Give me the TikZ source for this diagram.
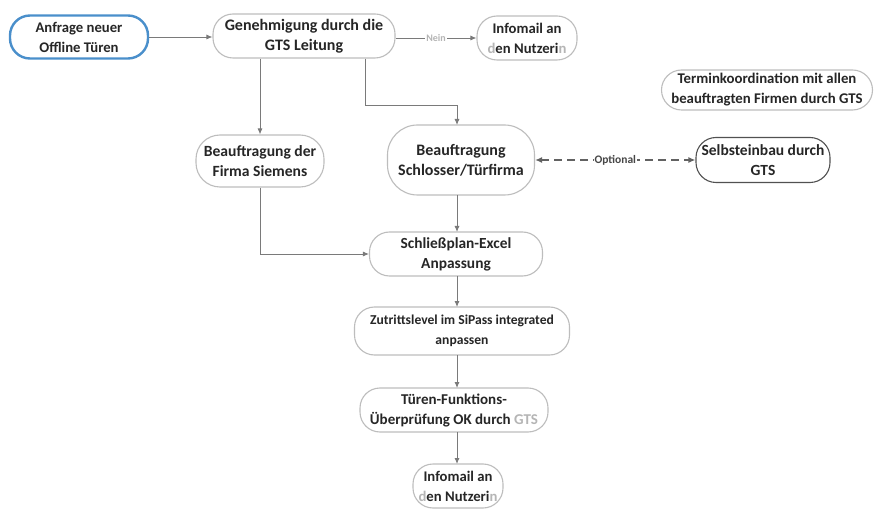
\documentclass[tikz,border=0pt]{standalone}
\usepackage{fontspec}
\setmainfont{Carlito}
\usetikzlibrary{arrows.meta}
\definecolor{boxline}{HTML}{BDBDBD}
\definecolor{startline}{HTML}{4A8FCB}
\definecolor{linkline}{HTML}{7A7A7A}
\definecolor{txt}{HTML}{262626}
\definecolor{faint}{HTML}{B5B5B5}
\tikzset{
  fs/.style={font=\fontsize{#1}{20}\selectfont\bfseries},
  stepbox/.style={draw=boxline, line width=1.1pt, rounded corners=20pt, fill=white,
    align=center, text=txt, inner sep=2pt, fs=15.3},
  startbox/.style={stepbox, draw=startline, line width=2.4pt},
  link/.style={draw=linkline, line width=0.9pt, -{Latex[length=6pt,width=5pt]}},
  optlink/.style={draw=linkline!80!black, line width=1.6pt, dash pattern=on 8pt off 5pt,
    {Latex[length=7pt,width=6pt]}-{Latex[length=7pt,width=6pt]}},
  lbl/.style={fill=white, inner sep=1pt, font=\fontsize{10}{11}\selectfont\bfseries}
}
\begin{document}
\begin{tikzpicture}[x=1pt,y=-1pt]
\useasboundingbox[fill=white] (0,0) rectangle (877,510);

% process steps
\node[startbox, fs=14.7, minimum width=138pt, minimum height=43pt] (anfrage) at (79,37) {Anfrage neuer\\Offline Türen};
\node[stepbox, fs=16, minimum width=182pt, minimum height=44pt] (gen) at (304,36) {Genehmigung durch die\\GTS Leitung};
\node[stepbox, fs=14.7, minimum width=100pt, minimum height=44pt] (info1) at (527,38) {Infomail an\\{\color{faint}d}en Nutzeri{\color{faint}n}};
\node[stepbox, fs=14.8, minimum width=211pt, minimum height=40pt] (termin) at (767,90) {Terminkoordination mit allen\\beauftragten Firmen durch GTS};
\node[stepbox, fs=15.6, minimum width=128pt, minimum height=52pt, rounded corners=24pt] (siemens) at (260,161) {Beauftragung der\\Firma Siemens};
\node[stepbox, fs=16, minimum width=147pt, minimum height=70pt, rounded corners=30pt] (schl) at (461,160) {Beauftragung\\Schlosser/Türfirma};
\node[stepbox, fs=15.5, draw=txt!80, minimum width=134pt, minimum height=45pt] (selbst) at (763,160) {Selbsteinbau durch\\GTS};
\node[stepbox, fs=15.4, minimum width=173pt, minimum height=44pt] (plan) at (456,254) {Schließplan-Excel\\Anpassung};
\node[stepbox, fs=13.6, minimum width=215pt, minimum height=48pt] (zutritt) at (462,331) {Zutrittslevel im SiPass integrated\\anpassen};
\node[stepbox, fs=15, minimum width=188pt, minimum height=44pt] (tueren) at (454,410) {Türen-Funktions-\\Überprüfung OK durch {\color{faint}GTS}};
\node[stepbox, fs=14.7, minimum width=90pt, minimum height=44pt] (info2) at (458,486) {Infomail an\\{\color{faint}d}en Nutzeri{\color{faint}n}};

% connectors
\draw[link] (anfrage.east) -- (anfrage.east -| gen.west);
\draw[link] (gen.east |- info1.west) -- node[lbl, text=faint] {Nein} (info1.west);
\draw[link] (siemens.north |- gen.south) -- (siemens.north);
\coordinate (split) at (365,105);
\draw[link] (split |- gen.south) -- (split) -| (457,125);
\draw[link] (siemens.south) |- (plan.west);
\draw[link] (457,195) -- (457,232);
\draw[link] (457,276) -- (457,307);
\draw[link] (457,355) -- (457,388);
\draw[link] (457,432) -- (457,464);
\draw[optlink] (schl.east) -- node[lbl, font=\fontsize{11.5}{12}\selectfont\bfseries, text=txt!85] {Optional} (selbst.west);
\end{tikzpicture}
\end{document}
